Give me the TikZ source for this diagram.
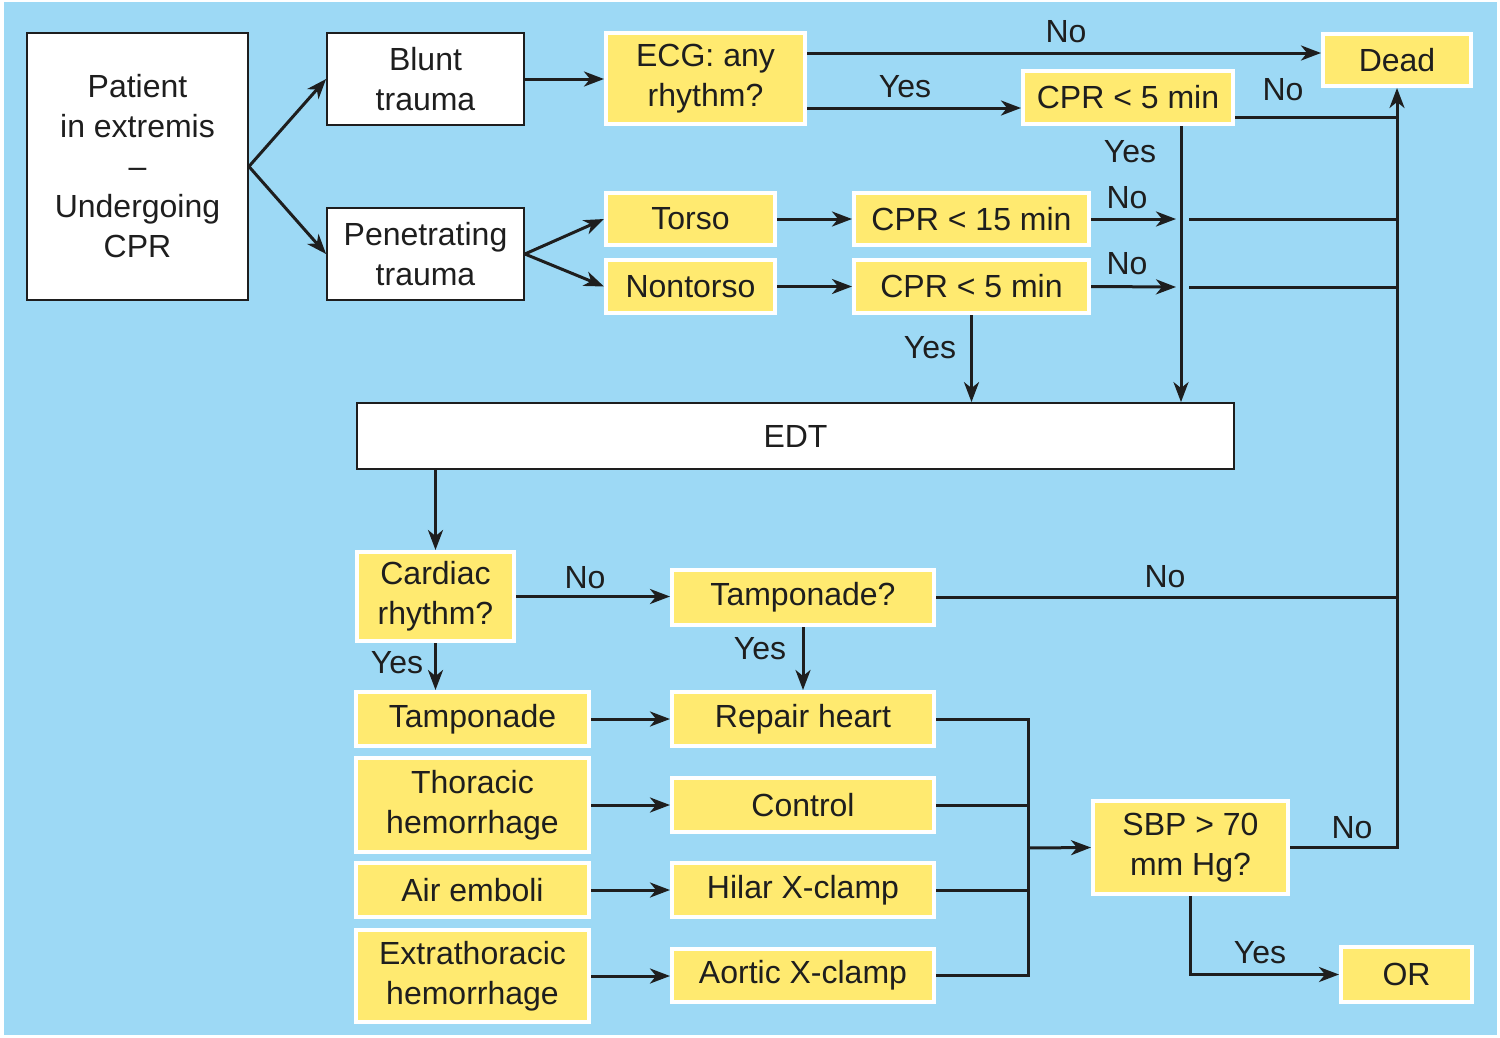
\documentclass[tikz,border=0pt]{standalone}
\usepackage{fontspec}
\setmainfont{Liberation Sans}
\usetikzlibrary{arrows.meta}
\definecolor{SkyBack}{HTML}{9DD9F5}
\definecolor{BoxYellow}{HTML}{FFEA70}
\definecolor{Ink}{HTML}{1E1E1E}

\begin{document}
\begin{tikzpicture}[x=1pt,y=-1pt,
    every node/.style={font=\fontsize{32}{40}\selectfont,text=Ink,inner sep=0pt,align=center},
    whitebox/.style={draw=Ink,fill=white,line width=1.8pt},
    yelbox/.style={draw=white,fill=BoxYellow,line width=4pt},
    arr/.style={draw=Ink,line width=3pt,-{Stealth[length=20pt,width=15pt,inset=6pt]}},
    conn/.style={draw=Ink,line width=3pt}]
    \useasboundingbox (0,0) rectangle (1500,1037);
    \fill[white] (0,0) rectangle (1500,1037);
    \fill[SkyBack] (4,2) rectangle (1497,1035);

    % white boxes
    \node[whitebox,minimum width=221pt,minimum height=267pt] (patient) at (137.5,166.5) {Patient\\in extremis\\--\\Undergoing\\CPR};
    \node[whitebox,minimum width=197pt,minimum height=92pt] (blunt) at (425.5,79) {Blunt\\trauma};
    \node[whitebox,minimum width=197pt,minimum height=92pt] (penetr) at (425.5,254) {Penetrating\\trauma};
    \node[whitebox,minimum width=877pt,minimum height=66pt] (edt) at (795.5,436) {EDT};

    % yellow boxes, top half
    \node[yelbox,minimum width=199pt,minimum height=91pt] (ecg) at (705.5,78.5) {ECG: any\\rhythm?};
    \node[yelbox,minimum width=148pt,minimum height=52pt] (dead) at (1397,60) {Dead};
    \node[yelbox,minimum width=210pt,minimum height=53pt] (cprtop) at (1128,97.5) {CPR < 5 min};
    \node[yelbox,minimum width=169pt,minimum height=52pt] (torso) at (690.5,219) {Torso};
    \node[yelbox,minimum width=169pt,minimum height=53pt] (nontorso) at (690.5,286.5) {Nontorso};
    \node[yelbox,minimum width=235pt,minimum height=52pt] (cprfifteen) at (971.5,219) {CPR < 15 min};
    \node[yelbox,minimum width=235pt,minimum height=53pt] (cprfive) at (971.5,286.5) {CPR < 5 min};

    % yellow boxes, bottom half
    \node[yelbox,minimum width=157pt,minimum height=89pt] (cardiac) at (435.5,596.5) {Cardiac\\rhythm?};
    \node[yelbox,minimum width=262pt,minimum height=55pt] (tampq) at (803,597.5) {Tamponade?};
    \node[yelbox,minimum width=233pt,minimum height=54pt] (tamp) at (472.5,719) {Tamponade};
    \node[yelbox,minimum width=233pt,minimum height=94pt] (thoracic) at (472.5,805) {Thoracic\\hemorrhage};
    \node[yelbox,minimum width=233pt,minimum height=54pt] (emboli) at (472.5,890) {Air emboli};
    \node[yelbox,minimum width=233pt,minimum height=92pt] (extra) at (472.5,976) {Extrathoracic\\hemorrhage};
    \node[yelbox,minimum width=262pt,minimum height=54pt] (repair) at (803,719) {Repair heart};
    \node[yelbox,minimum width=262pt,minimum height=54pt] (control) at (803,805) {Control};
    \node[yelbox,minimum width=262pt,minimum height=54pt] (hilar) at (803,890) {Hilar X-clamp};
    \node[yelbox,minimum width=262pt,minimum height=53pt] (aortic) at (803,975.5) {Aortic X-clamp};
    \node[yelbox,minimum width=195pt,minimum height=93pt] (sbp) at (1190.5,847.5) {SBP > 70\\mm Hg?};
    \node[yelbox,minimum width=131pt,minimum height=55pt] (or) at (1406.5,974.5) {OR};

    % helper points
    \coordinate (yesdrop) at ([xshift=53pt]cprtop.south);
    \coordinate (bus) at (1028,848);
    \coordinate (gapfifteen) at (1176,219);
    \coordinate (restfifteen) at (1189,219);
    \coordinate (gapfive) at (1176,287);
    \coordinate (restfive) at (1189,287);

    % connectors
    \draw[arr] (patient.east) -- (blunt.west);
    \draw[arr] (patient.east) -- (penetr.west);
    \draw[arr] (blunt.east) -- (blunt.east -| ecg.west);
    \draw[arr] (penetr.east) -- (torso.west);
    \draw[arr] (penetr.east) -- (nontorso.west);
    \draw[arr] ([yshift=25.5pt]ecg.east) -- ([yshift=25.5pt]ecg.east -| dead.west);
    \draw[arr] ([yshift=-29.5pt]ecg.east) -- ([yshift=-29.5pt]ecg.east -| cprtop.west);
    \draw[conn] ([yshift=-19.5pt]cprtop.east) -- ([yshift=-19.5pt]cprtop.east -| dead.south);
    \draw[arr] (yesdrop) -- (yesdrop |- edt.north);
    \draw[arr] (torso.east) -- (cprfifteen.west);
    \draw[arr] (nontorso.east) -- (cprfive.west);
    \draw[arr] (cprfifteen.east) -- (gapfifteen);
    \draw[conn] (restfifteen) -- (restfifteen -| dead.south);
    \draw[arr] (cprfive.east) -- (gapfive);
    \draw[conn] (restfive) -- (restfive -| dead.south);
    \draw[arr] (cprfive.south) -- (cprfive.south |- edt.north);
    \draw[arr] (cardiac.north |- edt.south) -- (cardiac.north);
    \draw[arr] (cardiac.east) -- (cardiac.east -| tampq.west);
    \draw[conn] (tampq.east) -- (tampq.east -| dead.south);
    \draw[arr] (cardiac.south) -- (cardiac.south |- tamp.north);
    \draw[arr] (tampq.south) -- (repair.north);
    \foreach \a/\b in {tamp/repair,thoracic/control,emboli/hilar,extra/aortic}{
      \draw[arr] (\a.east) -- (\a.east -| \b.west);
    }
    \draw[conn] (repair.east) -| (bus) |- (aortic.east);
    \draw[conn] (control.east) -- (control.east -| bus);
    \draw[conn] (hilar.east) -- (hilar.east -| bus);
    \draw[arr] (bus) -- (sbp.west);
    \draw[arr] (sbp.east) -| (dead.south);
    \draw[arr] (sbp.south) |- (or.west);

    % branch labels
    \node (noecg) at (1066,32) {No};
    \node (yesecg) at (905,87) {Yes};
    \node (nocprtop) at (1283,90) {No};
    \node (yescprtop) at (1130,152) {Yes};
    \node (nofifteen) at (1127,198) {No};
    \node (nofive) at (1127,264) {No};
    \node (yesfive) at (930,348) {Yes};
    \node (nocardiac) at (585,578) {No};
    \node (notampq) at (1165,577) {No};
    \node (yescardiac) at (397,663) {Yes};
    \node (yestampq) at (760,649) {Yes};
    \node (nosbp) at (1352,828) {No};
    \node (yessbp) at (1260,953) {Yes};
\end{tikzpicture}
\end{document}
